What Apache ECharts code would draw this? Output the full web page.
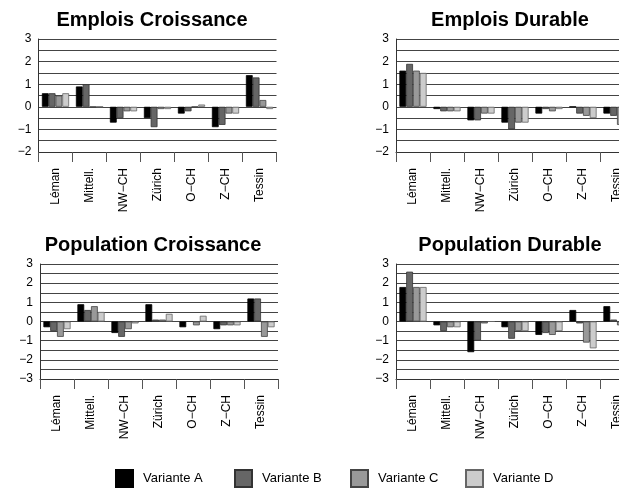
<!DOCTYPE html>
<html>
<head>
<meta charset="utf-8">
<script src="https://cdn.jsdelivr.net/npm/echarts@6/dist/echarts.min.js"></script>
<style>
html,body{margin:0;padding:0;background:#fff;}
#c{width:619px;height:488px;}
</style>
</head>
<body>
<div id="c"></div>
<script>
const categories = ['Léman', 'Mittell.', 'NW−CH', 'Zürich', 'O−CH', 'Z−CH', 'Tessin'];
const variants = ['Variante A', 'Variante B', 'Variante C', 'Variante D'];
const titles = ['Emplois Croissance', 'Emplois Durable', 'Population Croissance', 'Population Durable'];

// Emplois Croissance
const ecA = [0.6, 0.9, -0.7, -0.5, -0.3, -0.9, 1.4];
const ecB = [0.6, 1.0, -0.5, -0.9, -0.2, -0.8, 1.3];
const ecC = [0.5, 0, -0.2, -0.1, 0, -0.3, 0.3];
const ecD = [0.6, 0, -0.2, -0.1, 0.1, -0.3, -0.1];
// Emplois Durable
const edA = [1.6, -0.1, -0.6, -0.7, -0.3, 0, -0.3];
const edB = [1.9, -0.2, -0.6, -1.0, -0.1, -0.3, -0.4];
const edC = [1.6, -0.2, -0.3, -0.7, -0.2, -0.4, -0.8];
const edD = [1.5, -0.2, -0.3, -0.7, -0.1, -0.5, -0.5];
// Population Croissance
const pcA = [-0.3, 0.9, -0.6, 0.9, -0.3, -0.4, 1.2];
const pcB = [-0.5, 0.6, -0.8, 0.1, 0, -0.2, 1.2];
const pcC = [-0.8, 0.8, -0.4, 0.1, -0.2, -0.2, -0.8];
const pcD = [-0.4, 0.5, -0.1, 0.4, 0.3, -0.2, -0.3];
// Population Durable
const pdA = [1.8, -0.2, -1.6, -0.3, -0.7, 0.6, 0.8];
const pdB = [2.6, -0.5, -1.0, -0.9, -0.6, -0.1, 0.1];
const pdC = [1.8, -0.3, -0.1, -0.5, -0.7, -1.1, -0.2];
const pdD = [1.8, -0.3, 0, -0.5, -0.5, -1.4, -0.3];

const yRanges = [[-2, 3], [-2, 3], [-3, 3], [-3, 3]];
const chartData = [[ecA, ecB, ecC, ecD], [edA, edB, edC, edD], [pcA, pcB, pcC, pcD], [pdA, pdB, pdC, pdD]];

const colors = ['#000000', '#666666', '#999999', '#cccccc'];
const borders = ['#000000', '#333333', '#444444', '#666666'];
const font = 'Liberation Sans, Arial, Helvetica, sans-serif';

const grids = [
  {left: 38.5, top: 39, width: 238, height: 113, outerBoundsMode: 'none', containLabel: false},
  {left: 396, top: 39, width: 238, height: 113, outerBoundsMode: 'none', containLabel: false},
  {left: 40, top: 264, width: 238, height: 115, outerBoundsMode: 'none', containLabel: false},
  {left: 396, top: 264, width: 238, height: 115, outerBoundsMode: 'none', containLabel: false}
];
const titlePos = [[147, 5], [505, 5], [148, 230], [505, 230]];

const option = {
  animation: false,
  backgroundColor: '#fff',
  title: titles.map((t, i) => ({
    text: t, left: titlePos[i][0], top: titlePos[i][1], textAlign: 'center',
    textStyle: {fontFamily: font, fontWeight: 'bold', fontSize: 20, color: '#000'}
  })),
  legend: variants.map((v, i) => ({
    data: [v], left: [110, 229, 345, 460][i], top: 464, itemWidth: 17, itemHeight: 17,
    icon: 'rect',
    textStyle: {fontFamily: font, fontSize: 13, color: '#000', padding: [0, 0, 0, 5]}
  })),
  grid: grids,
  xAxis: grids.map((g, i) => ({
    type: 'category', gridIndex: i, data: categories, position: 'bottom',
    axisLine: {show: true, onZero: false, lineStyle: {color: '#333', width: 1}},
    axisTick: {show: true, length: 10, interval: 0, lineStyle: {color: '#555'}},
    axisLabel: {rotate: 90, margin: 16, interval: 0, fontFamily: font, fontSize: 12, color: '#000'}
  })),
  yAxis: grids.map((g, i) => ({
    type: 'value', gridIndex: i, min: yRanges[i][0], max: yRanges[i][1], interval: 0.5,
    axisLine: {show: true, lineStyle: {color: '#333', width: 1}},
    axisTick: {show: false},
    splitLine: {show: true, lineStyle: {color: '#444', width: 1}},
    axisLabel: {
      margin: 7, fontFamily: font, fontSize: 12, color: '#000',
      formatter: v => Number.isInteger(v) ? String(v).replace('-', '−') : ''
    }
  })),
  series: []
};

chartData.forEach((set, gi) => {
  set.forEach((vals, vi) => {
    option.series.push({
      type: 'bar', name: variants[vi], xAxisIndex: gi, yAxisIndex: gi, data: vals,
      barGap: '0%', barCategoryGap: '20%',
      itemStyle: {color: colors[vi], borderColor: borders[vi], borderWidth: 0.8}
    });
  });
});

const chart = echarts.init(document.getElementById('c'), null, {renderer: 'canvas'});
chart.setOption(option);
</script>
</body>
</html>
